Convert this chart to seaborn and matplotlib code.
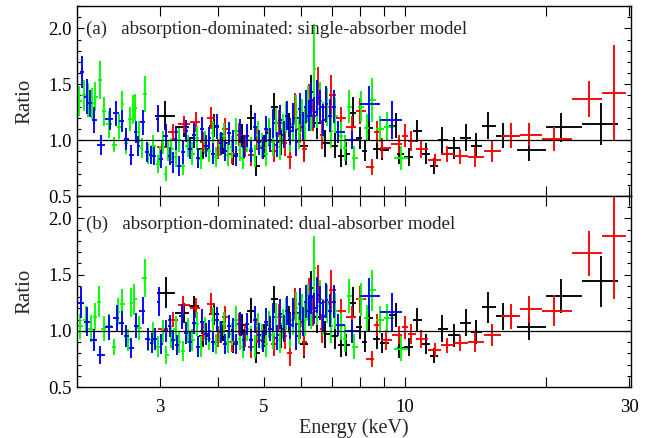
import matplotlib
matplotlib.use("Agg")
import matplotlib.pyplot as plt
import matplotlib.ticker as mticker
import seaborn as sns
import numpy as np

# ---------------- panel (a): single-absorber model ----------------
BLUE_A_E = [2.05, 2.10, 2.13, 2.17, 2.25, 2.35, 2.42, 2.49, 2.55, 2.61,
            2.67, 2.70, 2.76, 2.82, 2.87, 2.92, 2.97, 3.02, 3.09, 3.15,
            3.20, 3.25, 3.30, 3.36, 3.42, 3.48, 3.55, 3.62, 3.69, 3.76,
            3.83, 3.90, 3.97, 4.05, 4.13, 4.21, 4.29, 4.37, 4.45, 4.53,
            4.61, 4.70, 4.79, 4.88, 4.97, 5.06, 5.15, 5.24, 5.33, 5.42,
            5.51, 5.60, 5.69, 5.78, 5.87, 5.96, 6.05, 6.14, 6.23, 6.32,
            6.41, 6.50, 6.60, 6.70, 6.80, 6.92, 7.05, 7.20, 7.70, 8.36, 9.37]
BLUE_A_R = [1.61, 1.39, 1.33, 1.18, 0.96, 1.19, 1.24, 1.17, 1.01, 0.87,
            1.07, 0.95, 1.16, 0.89, 0.87, 0.86, 1.19, 0.83, 1.04, 0.86,
            0.80, 1.01, 0.77, 0.89, 1.08, 0.92, 1.05, 0.84, 1.10, 0.95,
            1.02, 0.88, 1.12, 0.97, 0.90, 1.06, 0.99, 0.86, 1.08, 0.94,
            1.04, 0.90, 1.12, 0.98, 0.93, 1.10, 1.00, 1.15, 0.96, 1.18,
            1.05, 1.22, 1.08, 1.20, 0.98, 1.28, 1.12, 1.30, 1.22, 1.36,
            1.25, 1.38, 1.30, 1.18, 1.32, 1.22, 1.30, 1.07, 1.00, 1.32, 1.18]
BLUE_A_ERR = [0.14, 0.16, 0.12, 0.12, 0.09, 0.10, 0.11, 0.10, 0.10, 0.09,
              0.10, 0.09, 0.11, 0.09, 0.08, 0.08, 0.12, 0.08, 0.10, 0.08,
              0.09, 0.10, 0.09, 0.10, 0.10, 0.09, 0.10, 0.09, 0.11, 0.10,
              0.10, 0.09, 0.11, 0.10, 0.09, 0.10, 0.10, 0.09, 0.11, 0.10,
              0.10, 0.10, 0.12, 0.11, 0.10, 0.12, 0.11, 0.13, 0.11, 0.13,
              0.12, 0.13, 0.12, 0.13, 0.12, 0.14, 0.13, 0.15, 0.14, 0.15,
              0.14, 0.16, 0.15, 0.14, 0.16, 0.15, 0.15, 0.10, 0.08, 0.16, 0.17]

GREEN_A_E = [2.02, 2.07, 2.11, 2.15, 2.19, 2.24, 2.28, 2.34, 2.40, 2.46,
             2.50, 2.55, 2.60, 2.63, 2.66, 2.71, 2.75, 2.79, 2.84, 2.91,
             2.97, 3.00, 3.05, 3.09, 3.13, 3.18, 3.25, 3.30, 3.36, 3.45,
             3.52, 3.60, 3.67, 3.74, 3.82, 3.89, 3.96, 4.04, 4.12, 4.20,
             4.28, 4.36, 4.44, 4.52, 4.60, 4.69, 4.78, 4.87, 4.96, 5.05,
             5.14, 5.23, 5.32, 5.41, 5.50, 5.59, 5.68, 5.77, 5.86, 5.95,
             6.04, 6.13, 6.22, 6.31, 6.40, 6.50, 6.60, 6.70, 6.82, 6.95,
             7.10, 7.30, 7.45, 7.60, 7.80, 8.05, 8.30, 8.50, 8.85, 9.15, 9.80]
GREEN_A_R = [1.35, 1.40, 1.36, 1.33, 1.39, 1.54, 1.26, 1.14, 0.96, 1.12,
             1.32, 0.97, 1.19, 1.27, 1.29, 1.07, 0.93, 1.41, 0.88, 0.95,
             0.79, 0.86, 0.98, 0.70, 0.90, 0.92, 0.85, 1.00, 0.77, 0.95,
             0.88, 1.02, 0.83, 0.98, 0.90, 1.06, 0.85, 0.96, 1.04, 0.87,
             0.94, 1.08, 0.91, 0.84, 1.00, 0.92, 0.86, 1.05, 0.95, 0.88,
             1.08, 0.98, 1.16, 0.94, 1.10, 1.20, 1.02, 1.14, 1.25, 1.06,
             1.22, 1.15, 1.32, 1.24, 1.64, 1.28, 1.35, 1.18, 1.30, 1.08,
             1.22, 1.04, 0.93, 1.30, 0.84, 1.30, 1.11, 1.36, 1.10, 1.12, 0.84]
GREEN_A_ERR = [0.13, 0.14, 0.15, 0.14, 0.13, 0.17, 0.13, 0.12, 0.07, 0.11,
               0.12, 0.09, 0.11, 0.13, 0.12, 0.10, 0.09, 0.16, 0.09, 0.10,
               0.08, 0.09, 0.10, 0.07, 0.09, 0.10, 0.09, 0.11, 0.08, 0.10,
               0.10, 0.11, 0.09, 0.10, 0.10, 0.11, 0.09, 0.10, 0.11, 0.10,
               0.10, 0.12, 0.10, 0.10, 0.11, 0.11, 0.10, 0.12, 0.11, 0.11,
               0.12, 0.12, 0.13, 0.12, 0.13, 0.14, 0.13, 0.14, 0.15, 0.14,
               0.15, 0.15, 0.16, 0.16, 0.40, 0.17, 0.17, 0.16, 0.17, 0.15,
               0.16, 0.12, 0.12, 0.15, 0.11, 0.14, 0.12, 0.20, 0.12, 0.13, 0.11]

RED_A_E = [3.04, 3.20, 3.38, 3.58, 3.72, 3.86, 4.00, 4.14, 4.28, 4.42,
           4.56, 4.70, 4.84, 4.98, 5.12, 5.26, 5.40, 5.54, 5.68, 5.82,
           5.96, 6.10, 6.24, 6.38, 6.52, 6.66, 6.80, 6.95, 7.30, 7.70,
           8.00, 8.50, 8.70, 8.95, 9.70, 10.0, 10.3, 10.8, 11.6, 12.3,
           13.1, 14.1, 15.3, 16.8, 18.4, 20.8, 24.6, 27.9]
RED_A_R = [0.94, 1.07, 1.14, 1.16, 0.98, 1.20, 0.92, 1.10, 0.88, 1.05,
           0.95, 0.87, 1.02, 0.93, 1.08, 0.90, 1.15, 0.97, 0.85, 1.28,
           1.10, 0.92, 1.35, 1.22, 1.48, 1.05, 1.30, 1.40, 1.20, 1.12,
           1.26, 0.76, 1.07, 0.93, 0.965, 1.04, 0.99, 0.92, 0.82, 0.876,
           0.855, 0.85, 0.90, 1.04, 1.05, 1.01, 1.365, 1.425]
RED_A_ERR = [0.06, 0.07, 0.08, 0.09, 0.09, 0.10, 0.09, 0.10, 0.09, 0.10,
             0.10, 0.10, 0.11, 0.10, 0.11, 0.10, 0.12, 0.11, 0.11, 0.14,
             0.13, 0.12, 0.15, 0.14, 0.17, 0.13, 0.15, 0.18, 0.10, 0.10,
             0.12, 0.07, 0.10, 0.09, 0.08, 0.10, 0.09, 0.08, 0.06, 0.07,
             0.07, 0.09, 0.10, 0.11, 0.10, 0.11, 0.16, 0.43]

BLACK_A_E = [3.08, 3.38, 3.55, 3.72, 3.92, 4.10, 4.30, 4.50, 4.69, 4.82,
             5.00, 5.12, 5.25, 5.45, 5.65, 5.85, 6.10, 6.30, 6.50, 6.75,
             7.10, 7.30, 7.50, 7.75, 8.00, 8.20, 8.40, 8.70, 8.95, 9.55,
             9.70, 10.2, 10.6, 11.1, 11.5, 12.0, 12.7, 13.5, 14.2, 15.0,
             16.2, 18.4, 21.5, 26.1]
BLACK_A_R = [1.22, 1.12, 1.02, 0.92, 1.13, 0.97, 0.88, 1.04, 1.20, 0.77,
             0.95, 1.06, 1.30, 0.98, 1.12, 1.20, 0.95, 1.43, 1.15, 0.97,
             0.95, 0.86, 0.88, 1.245, 1.02, 0.90, 1.11, 0.92, 0.91, 1.13,
             0.88, 0.85, 1.08, 0.88, 0.77, 1.00, 0.93, 1.02, 0.95, 1.13,
             1.04, 0.91, 1.115, 1.144]
BLACK_A_ERR = [0.13, 0.09, 0.09, 0.09, 0.10, 0.09, 0.10, 0.10, 0.11, 0.09,
               0.10, 0.11, 0.12, 0.11, 0.12, 0.13, 0.12, 0.15, 0.14, 0.12,
               0.11, 0.10, 0.10, 0.14, 0.10, 0.09, 0.11, 0.09, 0.09, 0.11,
               0.09, 0.08, 0.10, 0.09, 0.07, 0.12, 0.10, 0.12, 0.11, 0.12,
               0.11, 0.10, 0.13, 0.19]

# ---------------- panel (b): dual-absorber model ----------------
BLUE_B_E = [2.04, 2.10, 2.17, 2.24, 2.34, 2.43, 2.49, 2.55, 2.61, 2.67,
            2.76, 2.83, 2.89, 2.93, 2.99, 3.02, 3.09, 3.15, 3.20, 3.27,
            3.34, 3.42, 3.48, 3.55, 3.62, 3.69, 3.76, 3.83, 3.90, 3.97,
            4.05, 4.13, 4.21, 4.29, 4.37, 4.45, 4.53, 4.61, 4.70, 4.79,
            4.88, 4.97, 5.06, 5.15, 5.24, 5.33, 5.42, 5.51, 5.60, 5.69,
            5.78, 5.87, 5.96, 6.05, 6.14, 6.23, 6.32, 6.41, 6.50, 6.60,
            6.70, 6.80, 6.92, 7.05, 7.20, 7.70, 8.36, 9.37]
BLUE_B_R = [1.25, 1.08, 0.92, 0.785, 1.03, 1.11, 1.07, 0.955, 0.845, 1.045,
            1.18, 0.925, 0.895, 0.925, 1.26, 0.885, 1.00, 1.045, 0.92, 0.875,
            1.13, 0.98, 0.90, 1.07, 0.86, 1.08, 0.97, 1.00, 0.90, 1.10,
            0.99, 0.88, 1.04, 1.01, 0.88, 1.06, 0.92, 1.06, 0.92, 1.10,
            0.96, 0.91, 1.08, 1.02, 1.12, 0.94, 1.15, 1.02, 1.18, 1.05,
            1.16, 0.95, 1.24, 1.08, 1.26, 1.18, 1.30, 1.20, 1.32, 1.25,
            1.13, 1.27, 1.18, 1.26, 1.05, 0.995, 1.31, 1.17]
BLUE_B_ERR = [0.14, 0.13, 0.10, 0.08, 0.11, 0.12, 0.11, 0.10, 0.09, 0.11,
              0.12, 0.10, 0.09, 0.10, 0.13, 0.09, 0.10, 0.10, 0.09, 0.09,
              0.11, 0.10, 0.09, 0.10, 0.09, 0.11, 0.10, 0.10, 0.09, 0.11,
              0.10, 0.09, 0.10, 0.10, 0.09, 0.11, 0.10, 0.10, 0.10, 0.12,
              0.11, 0.10, 0.12, 0.11, 0.13, 0.11, 0.13, 0.12, 0.13, 0.12,
              0.13, 0.12, 0.14, 0.13, 0.15, 0.14, 0.15, 0.14, 0.16, 0.15,
              0.14, 0.16, 0.15, 0.15, 0.10, 0.10, 0.16, 0.17]

GREEN_B_E = [2.03, 2.09, 2.14, 2.19, 2.23, 2.28, 2.34, 2.40, 2.45, 2.50,
             2.57, 2.61, 2.65, 2.71, 2.79, 2.84, 2.90, 2.98, 3.05, 3.10,
             3.17, 3.25, 3.30, 3.36, 3.45, 3.52, 3.60, 3.67, 3.74, 3.82,
             3.89, 3.96, 4.04, 4.12, 4.20, 4.28, 4.36, 4.44, 4.52, 4.60,
             4.69, 4.78, 4.87, 4.96, 5.05, 5.14, 5.23, 5.32, 5.41, 5.50,
             5.59, 5.68, 5.77, 5.86, 5.95, 6.04, 6.13, 6.22, 6.31, 6.40,
             6.50, 6.60, 6.70, 6.82, 6.95, 7.10, 7.30, 7.45, 7.60, 7.80,
             8.05, 8.30, 8.50, 8.85, 9.15, 9.80]
GREEN_B_R = [1.04, 1.10, 1.02, 1.125, 1.26, 1.02, 1.04, 0.855, 1.17, 1.24,
             0.92, 1.25, 1.28, 1.025, 1.47, 0.92, 0.98, 0.86, 0.995, 0.785,
             0.95, 1.02, 0.90, 0.82, 1.00, 0.92, 1.06, 0.86, 1.02, 0.93,
             1.10, 0.88, 0.99, 1.06, 0.90, 0.97, 1.10, 0.93, 0.86, 1.02,
             0.93, 0.86, 1.04, 0.95, 0.88, 1.06, 0.96, 1.12, 0.92, 1.06,
             1.15, 0.98, 1.10, 1.20, 1.02, 1.18, 1.10, 1.26, 1.18, 1.56,
             1.22, 1.28, 1.12, 1.24, 1.04, 1.18, 1.04, 0.93, 1.31, 0.86,
             1.28, 1.11, 1.36, 1.10, 1.11, 0.84]
GREEN_B_ERR = [0.11, 0.12, 0.12, 0.12, 0.14, 0.11, 0.11, 0.07, 0.12, 0.13,
               0.10, 0.13, 0.14, 0.11, 0.17, 0.10, 0.10, 0.09, 0.10, 0.08,
               0.10, 0.11, 0.10, 0.09, 0.11, 0.10, 0.11, 0.09, 0.10, 0.10,
               0.11, 0.09, 0.10, 0.11, 0.10, 0.10, 0.12, 0.10, 0.10, 0.11,
               0.11, 0.10, 0.12, 0.11, 0.11, 0.12, 0.12, 0.13, 0.12, 0.13,
               0.14, 0.13, 0.14, 0.15, 0.14, 0.15, 0.15, 0.16, 0.16, 0.28,
               0.17, 0.17, 0.16, 0.17, 0.15, 0.16, 0.12, 0.12, 0.15, 0.11,
               0.15, 0.12, 0.18, 0.12, 0.13, 0.11]

RED_B_E = [3.05, 3.20, 3.37, 3.58, 3.72, 3.86, 4.00, 4.14, 4.28, 4.42,
           4.56, 4.70, 4.84, 4.98, 5.12, 5.26, 5.40, 5.54, 5.68, 5.82,
           5.96, 6.10, 6.24, 6.38, 6.52, 6.66, 6.80, 6.95, 7.30, 7.70,
           8.00, 8.50, 8.70, 9.10, 9.70, 10.0, 10.3, 10.8, 11.6, 12.3,
           13.1, 14.1, 15.3, 16.8, 18.4, 20.8, 24.6, 27.9]
RED_B_R = [1.02, 1.10, 1.23, 1.20, 1.00, 1.24, 0.95, 1.12, 0.90, 1.06,
           0.96, 0.86, 1.00, 0.92, 1.06, 0.88, 1.12, 0.95, 0.80, 1.24,
           1.06, 0.90, 1.32, 1.18, 1.42, 1.02, 1.26, 1.36, 1.18, 1.12,
           1.28, 0.75, 1.05, 0.92, 0.965, 1.03, 0.97, 0.93, 0.83, 0.87,
           0.89, 0.905, 0.965, 1.13, 1.19, 1.18, 1.69, 1.84]
RED_B_ERR = [0.06, 0.07, 0.08, 0.09, 0.09, 0.10, 0.09, 0.10, 0.09, 0.10,
             0.10, 0.10, 0.11, 0.10, 0.11, 0.10, 0.12, 0.11, 0.11, 0.14,
             0.13, 0.12, 0.15, 0.14, 0.17, 0.13, 0.15, 0.18, 0.10, 0.10,
             0.12, 0.07, 0.10, 0.09, 0.08, 0.10, 0.09, 0.08, 0.06, 0.07,
             0.07, 0.09, 0.10, 0.11, 0.12, 0.14, 0.20, 0.56]

BLACK_B_E = [3.10, 3.38, 3.55, 3.72, 3.92, 4.10, 4.30, 4.50, 4.69, 4.82,
             5.00, 5.12, 5.25, 5.45, 5.65, 5.85, 6.10, 6.30, 6.50, 6.75,
             7.10, 7.30, 7.50, 7.75, 8.00, 8.20, 8.40, 8.70, 8.95, 9.55,
             9.70, 10.2, 10.6, 11.1, 11.5, 12.0, 12.7, 13.5, 14.2, 15.0,
             16.2, 18.4, 21.5, 26.1]
BLACK_B_R = [1.34, 1.16, 1.22, 0.95, 1.15, 1.00, 0.90, 1.05, 1.18, 0.80,
             0.96, 1.05, 1.28, 0.96, 1.10, 1.16, 0.88, 1.38, 1.12, 0.97,
             0.95, 0.87, 0.875, 1.25, 1.03, 0.90, 1.11, 0.93, 0.895, 1.14,
             0.85, 0.86, 1.10, 0.885, 0.78, 1.02, 0.96, 1.07, 0.99, 1.21,
             1.13, 1.03, 1.31, 1.44]
BLACK_B_ERR = [0.14, 0.09, 0.09, 0.09, 0.10, 0.09, 0.10, 0.10, 0.11, 0.09,
               0.10, 0.11, 0.12, 0.11, 0.12, 0.13, 0.12, 0.15, 0.14, 0.12,
               0.11, 0.10, 0.10, 0.14, 0.10, 0.09, 0.11, 0.09, 0.09, 0.11,
               0.09, 0.08, 0.10, 0.09, 0.07, 0.12, 0.10, 0.12, 0.11, 0.14,
               0.12, 0.11, 0.15, 0.23]

PANEL_LABELS = ["(a)   absorption-dominated: single-absorber model",
                "(b)   absorption-dominated: dual-absorber model"]
X_MAJOR = [3, 5, 10, 30]
X_MINOR = [4, 6, 7, 8, 9, 20]


def bin_halfwidths(e):
    """Contiguous bins: edges half way between neighbouring bin centres."""
    e = np.asarray(e, dtype=float)
    mid = (e[1:] + e[:-1]) / 2
    lo = np.concatenate([[2 * e[0] - mid[0]], mid])
    hi = np.concatenate([mid, [2 * e[-1] - mid[-1]]])
    return np.vstack([e - lo, hi - e])


sns.set_theme(style="ticks")
plt.rcParams.update({
    'font.family': ['Liberation Serif', 'DejaVu Serif'],
    'font.size': 13.5,
    'xtick.direction': 'in',
    'ytick.direction': 'in',
    'axes.linewidth': 1.0,
    'axes.edgecolor': 'black',
    'xtick.color': 'black',
    'ytick.color': 'black',
    'text.color': '#222222',
})

fig = plt.figure(figsize=(6.54, 4.38), dpi=100)
ax_a = fig.add_axes([0.1177, 0.5525, 0.8471, 0.4338])
ax_b = fig.add_axes([0.1177, 0.1164, 0.8471, 0.4361])

panels = [
    (ax_a, [(BLACK_A_E, BLACK_A_R, BLACK_A_ERR, 'black'),
            (RED_A_E, RED_A_R, RED_A_ERR, '#ff0000'),
            (GREEN_A_E, GREEN_A_R, GREEN_A_ERR, '#00ff00'),
            (BLUE_A_E, BLUE_A_R, BLUE_A_ERR, '#0000ff')]),
    (ax_b, [(BLACK_B_E, BLACK_B_R, BLACK_B_ERR, 'black'),
            (RED_B_E, RED_B_R, RED_B_ERR, '#ff0000'),
            (GREEN_B_E, GREEN_B_R, GREEN_B_ERR, '#00ff00'),
            (BLUE_B_E, BLUE_B_R, BLUE_B_ERR, '#0000ff')]),
]

for i, (ax, series) in enumerate(panels):
    for e, r, dr, col in series:
        ax.errorbar(e, r, xerr=bin_halfwidths(e), yerr=dr, fmt='none',
                    ecolor=col, elinewidth=1.35, capsize=0)
    ax.axhline(1.0, color='black', lw=0.9, zorder=5)

    ax.set_xscale('log')
    ax.set_xlim(2.0, 30.3)
    ax.set_ylim(0.5, 2.2)
    ax.xaxis.set_major_locator(mticker.FixedLocator(X_MAJOR))
    ax.xaxis.set_minor_locator(mticker.FixedLocator(X_MINOR))
    ax.xaxis.set_major_formatter(mticker.FixedFormatter([str(v) for v in X_MAJOR]))
    ax.xaxis.set_minor_formatter(mticker.NullFormatter())
    ax.yaxis.set_major_locator(mticker.MultipleLocator(0.5))
    ax.yaxis.set_minor_locator(mticker.MultipleLocator(0.1))
    ax.yaxis.set_major_formatter(mticker.FormatStrFormatter('%.1f'))
    ax.tick_params(axis='x', which='both', top=True, bottom=True,
                   length=7.5, width=0.8, labelsize=13.5, pad=8.5)
    ax.tick_params(axis='y', which='major', left=True, right=True,
                   length=5, width=0.8, labelsize=13.5, pad=4)
    ax.tick_params(axis='y', which='minor', left=True, right=True,
                   length=3, width=0.8)
    ax.set_ylabel('Ratio', fontsize=15, labelpad=10)
    ax.text(0.017, 0.875 if i == 0 else 0.85, PANEL_LABELS[i],
            transform=ax.transAxes, fontsize=13.7, va='center', ha='left')
    ax.grid(False)

ax_a.tick_params(axis='x', labelbottom=False)
ax_b.set_xlabel('Energy (keV)', fontsize=14.5, labelpad=1.5)

fig.savefig('out.png', dpi=100)
